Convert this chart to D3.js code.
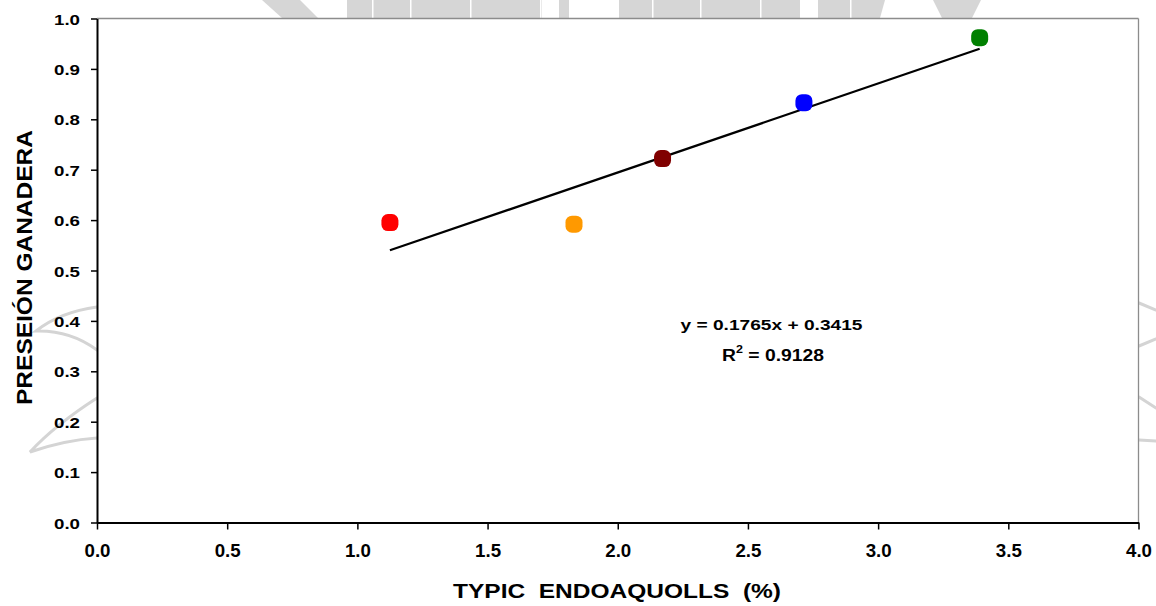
<!DOCTYPE html>
<html><head><meta charset="utf-8">
<script src="https://cdn.jsdelivr.net/npm/d3@7"></script>
<style>
html,body{margin:0;padding:0;background:#fff;}
text{font-family:"Liberation Sans",Arial,sans-serif;font-weight:bold;fill:#000;}
</style></head>
<body>
<svg id="chart" width="1156" height="606"></svg>
<script>
const xValues = [1.125, 1.832, 2.172, 2.715, 3.390];
const yValues = [0.595, 0.592, 0.722, 0.833, 0.962];
const pointColors = ["#ff0000", "#ff9900", "#800000", "#0000ff", "#008000"];
const xTicks = [0, 0.5, 1, 1.5, 2, 2.5, 3, 3.5, 4];
const yTicks = [0, 0.1, 0.2, 0.3, 0.4, 0.5, 0.6, 0.7, 0.8, 0.9, 1.0];
const trendCoef = [0.1765, 0.3415]; // slope, intercept
const equationLabel = "y = 0.1765x + 0.3415";
const r2Label = "0.9128";
const xTitle = "TYPIC  ENDOAQUOLLS  (%)";
const yTitle = "PRESEIÓN GANADERA";

const svg = d3.select("#chart");
const L = 97, R = 1138.5, T = 18.5, B = 522.5;
const x = d3.scaleLinear().domain([0, 4]).range([L, R]);
const y = d3.scaleLinear().domain([0, 1]).range([B, T]);

// faint background watermark (decoration)
const wm = svg.append("g").attr("fill", "#d6d6d6").attr("stroke", "none");
[[262,0,300,0,318,18,282,18],[347,0,542,0,542,18,347,18],[559,0,569,0,569,18,559,18],
 [619,0,800,0,800,18,619,18],[818,0,885,0,880,18,818,18],[933,0,981,0,972,18,942,18]]
 .forEach(p => wm.append("polygon").attr("points", d3.range(0, p.length, 2).map(i => p[i] + "," + p[i+1]).join(" ")));
svg.append("g").attr("fill", "#fff").selectAll("rect").data([372, 410, 470, 540, 652, 700, 760, 850])
  .enter().append("rect").attr("x", d => d).attr("y", 0).attr("width", 1.5).attr("height", 18);
const wl = svg.append("g").attr("fill", "none").attr("stroke", "#d4d4d4").attr("stroke-width", 3).attr("stroke-linecap", "round");
wl.append("path").attr("d", "M97,307 Q60,312 36,331 Q70,330 97,350");
wl.append("path").attr("d", "M97,398 Q55,425 30,452 Q65,440 97,438");
wl.append("path").attr("d", "M1139,303 L1156,310");
wl.append("path").attr("d", "M1139,346 L1156,339");
wl.append("path").attr("d", "M1139,397 L1156,408");
wl.append("path").attr("d", "M1139,440 L1156,441");

// plot area
svg.append("rect").attr("x", L).attr("y", T).attr("width", R - L).attr("height", B - T).attr("fill", "#fff");
svg.append("line").attr("x1", L).attr("x2", R).attr("y1", T).attr("y2", T).attr("stroke", "#8c8c8c").attr("stroke-width", 1.3);
svg.append("line").attr("x1", R).attr("x2", R).attr("y1", T).attr("y2", B).attr("stroke", "#8c8c8c").attr("stroke-width", 1.3);

const xAxis = svg.append("g").attr("transform", `translate(0,${B})`)
  .call(d3.axisBottom(x).tickValues(xTicks).tickFormat(d3.format(".1f")).tickSize(7).tickSizeOuter(0));
const yAxis = svg.append("g").attr("transform", `translate(${L},0)`)
  .call(d3.axisLeft(y).tickValues(yTicks).tickFormat(d3.format(".1f")).tickSize(6).tickSizeOuter(0));
[xAxis, yAxis].forEach(g => {
  g.select(".domain").attr("stroke", "#000").attr("stroke-width", 2);
  g.selectAll(".tick line").attr("stroke", "#000").attr("stroke-width", 1.5);
  g.selectAll("text").style("font-family", "'Liberation Sans',Arial,sans-serif").style("font-weight", "bold").attr("fill", "#000")
    .attr("lengthAdjust", "spacingAndGlyphs").attr("textLength", 26);
});
xAxis.selectAll("text").style("font-size", "19px").attr("dy", "0").attr("y", 34);
yAxis.selectAll("text").style("font-size", "15.5px").attr("x", -17).attr("dy", "0").attr("y", 5.6);

// trendline
const xMin = d3.min(xValues), xMax = d3.max(xValues);
svg.append("line")
  .attr("x1", x(xMin)).attr("y1", y(trendCoef[0] * xMin + trendCoef[1]))
  .attr("x2", x(xMax)).attr("y2", y(trendCoef[0] * xMax + trendCoef[1]))
  .attr("stroke", "#000").attr("stroke-width", 2.2);

// points (rounded-square markers)
svg.selectAll("rect.pt").data(xValues).enter().append("rect")
  .attr("class", "pt")
  .attr("x", d => x(d) - 8.5).attr("y", (d, i) => y(yValues[i]) - 8.5)
  .attr("width", 17).attr("height", 17).attr("rx", 6.5)
  .attr("fill", (d, i) => pointColors[i]);

// equation
svg.append("text").attr("x", 680.5).attr("y", 329.5).style("font-size", "15.5px")
  .attr("textLength", 182).attr("lengthAdjust", "spacingAndGlyphs").text(equationLabel);
const r2 = svg.append("text").attr("x", 722).attr("y", 361.5).style("font-size", "17px");
r2.append("tspan").text("R");
r2.append("tspan").attr("dy", -8).style("font-size", "11px").text("2");
r2.append("tspan").attr("dy", 8).text(" = " + r2Label);
{
  const w = r2.node().getComputedTextLength();
  r2.attr("transform", `translate(722,0) scale(${102 / w},1) translate(-722,0)`);
}

// axis titles
svg.append("text").attr("x", 453).attr("y", 597.5).style("font-size", "20.5px")
  .attr("xml:space", "preserve").style("white-space", "pre")
  .attr("textLength", 328).attr("lengthAdjust", "spacingAndGlyphs").text(xTitle);
svg.append("text").attr("transform", "translate(31.5,405) rotate(-90)").style("font-size", "22.5px")
  .attr("textLength", 275).attr("lengthAdjust", "spacingAndGlyphs").text(yTitle);
</script>
</body></html>
